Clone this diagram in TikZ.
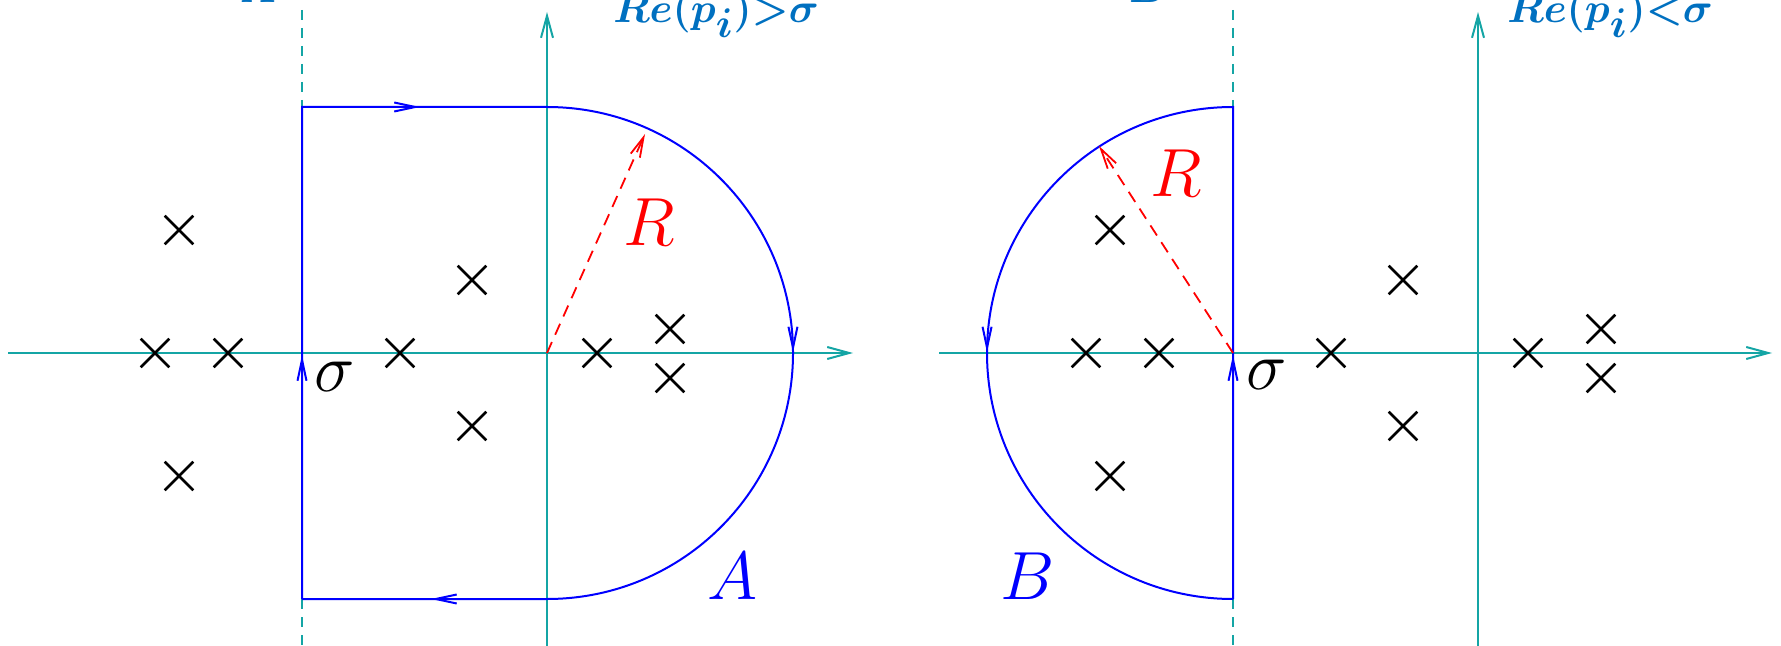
\documentclass[tikz,border=0pt]{standalone}
\usetikzlibrary{arrows.meta,decorations.markings,shapes.misc}
\definecolor{axisc}{RGB}{20,165,165}
\definecolor{labc}{RGB}{0,112,192}
\definecolor{contc}{RGB}{0,0,255}
\definecolor{radc}{RGB}{255,0,0}
\newcommand{\biglabel}[1]{\scalebox{1.37}{\Huge$#1$}}
\tikzset{
  axisline/.style={draw=axisc, line width=1pt, -{Straight Barb[length=11pt,width=6pt]}},
  sigline/.style={draw=axisc, line width=1pt, dash pattern=on 5pt off 4pt},
  contour/.style={draw=contc, line width=1pt},
  carrow/.style={color=contc, line width=1pt},
  radius arrow/.style={draw=radc, line width=0.9pt, dash pattern=on 6pt off 4pt, -{Straight Barb[length=10pt,width=5pt]}},
  pole/.style={cross out, draw=black, line width=1.3pt, minimum size=13pt, inner sep=0pt},
  biglab/.style={inner sep=0pt},
  toplab/.style={font=\huge\boldmath, text=labc, inner sep=0pt},
}
\begin{document}
\begin{tikzpicture}[x=0.5pt,y=-0.5pt]
\useasboundingbox (0,0) rectangle (1781,646);
\clip (0,0) rectangle (1781,646);

% ---------------- left panel ----------------
\coordinate (O1) at (547,353);
\coordinate (xl1) at (8,353);
\coordinate (xr1) at (853,353);
\coordinate (yb1) at (547,646);
\coordinate (yt1) at (547,12);
\coordinate (s1top) at (302,10);
\coordinate (s1a) at (302,107);
\coordinate (s1b) at (302,599);
\coordinate (s1bot) at (302,646);
\coordinate (c1tr) at (547,107);
\coordinate (c1br) at (547,599);
\coordinate (r1) at (645,134);

\draw[axisline] (xl1) -- (xr1);
\draw[axisline] (yb1) -- (yt1);
\draw[sigline] (s1top) -- (s1a);
\draw[sigline] (s1b) -- (s1bot);

\draw[contour, postaction={decorate}, decoration={markings,
   mark=at position 122pt with {\arrow[carrow]{Straight Barb[length=10.5pt,width=4.5pt]}},
   mark=at position 305pt with {\arrow[carrow]{Straight Barb[length=10.5pt,width=4.5pt]}},
   mark=at position 561.5pt with {\arrow[carrow]{Straight Barb[length=10.5pt,width=4.5pt]}},
   mark=at position 813pt with {\arrow[carrow]{Straight Barb[length=10.5pt,width=4.5pt]}}}]
  (s1b) -- (s1a) -- (c1tr) arc[start angle=90, end angle=-90, radius=123pt] -- (s1b);

\draw[radius arrow] (O1) -- (r1);

\node[pole] (p1) at (179,230) {};
\node[pole] (p2) at (179,476) {};
\node[pole] (p3) at (155,353) {};
\node[pole] (p4) at (228,353) {};
\node[pole] (p5) at (400,353) {};
\node[pole] (p6) at (472,280) {};
\node[pole] (p7) at (472,426) {};
\node[pole] (p8) at (597,353) {};
\node[pole] (p9) at (670,329) {};
\node[pole] (p10) at (670,378) {};

\node[biglab, text=radc] (R1) at (649,222) {\biglabel{R}};
\node[biglab, text=black] (sig1) at (335,377) {\biglabel{\sigma}};
\node[biglab, text=contc] (A1) at (733,576) {\biglabel{A}};
\node[toplab, anchor=base west] (t1) at (613,23) {$Re(p_{\textstyle i})\mathord{>}\sigma$};
\node[toplab, anchor=base] (ta) at (258,3) {$A$};

% ---------------- right panel ----------------
\coordinate (O2) at (1478,353);
\coordinate (xl2) at (939,353);
\coordinate (xr2) at (1772,353);
\coordinate (yb2) at (1478,646);
\coordinate (yt2) at (1478,12);
\coordinate (s2top) at (1233,10);
\coordinate (s2a) at (1233,107);
\coordinate (s2b) at (1233,599);
\coordinate (s2bot) at (1233,646);
\coordinate (S2) at (1233,353);
\coordinate (r2) at (1099,146);

\draw[axisline] (xl2) -- (xr2);
\draw[axisline] (yb2) -- (yt2);
\draw[sigline] (s2top) -- (s2a);
\draw[sigline] (s2b) -- (s2bot);

\draw[contour, postaction={decorate}, decoration={markings,
   mark=at position 122pt with {\arrow[carrow]{Straight Barb[length=10.5pt,width=4.5pt]}},
   mark=at position 439pt with {\arrow[carrow]{Straight Barb[length=10.5pt,width=4.5pt]}}}]
  (s2b) -- (s2a) arc[start angle=90, end angle=270, radius=123pt];

\draw[radius arrow] (S2) -- (r2);

\node[pole] (q1) at (1110,230) {};
\node[pole] (q2) at (1110,476) {};
\node[pole] (q3) at (1086,353) {};
\node[pole] (q4) at (1159,353) {};
\node[pole] (q5) at (1331,353) {};
\node[pole] (q6) at (1403,280) {};
\node[pole] (q7) at (1403,426) {};
\node[pole] (q8) at (1528,353) {};
\node[pole] (q9) at (1601,329) {};
\node[pole] (q10) at (1601,378) {};

\node[biglab, text=radc] (R2) at (1176,173) {\biglabel{R}};
\node[biglab, text=black] (sig2) at (1267,375) {\biglabel{\sigma}};
\node[biglab, text=contc] (B2) at (1028,576) {\biglabel{B}};
\node[toplab, anchor=base west] (t2) at (1507,23) {$Re(p_{\textstyle i})\mathord{<}\sigma$};
\node[toplab, anchor=base] (tb) at (1148,3) {$B$};
\end{tikzpicture}
\end{document}
